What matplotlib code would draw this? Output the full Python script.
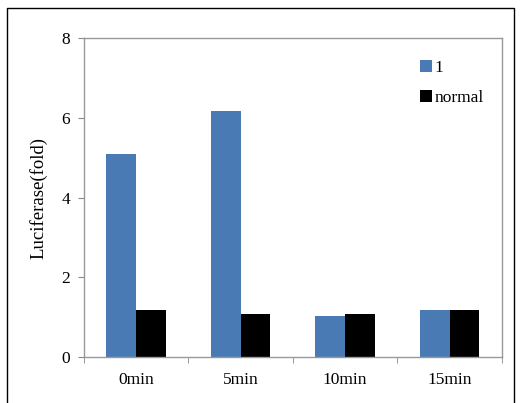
import matplotlib
matplotlib.use('Agg')
import matplotlib.pyplot as plt
from matplotlib.lines import Line2D
import numpy as np

categories = ['0min', '5min', '10min', '15min']
series_1 = [5.09, 6.17, 1.03, 1.18]
series_normal = [1.18, 1.08, 1.07, 1.17]
labels = ['1', 'normal']

plt.rcParams['font.family'] = 'Liberation Serif'

fig = plt.figure(figsize=(5.30, 4.03), dpi=100)
ax = fig.add_axes([0.1585, 0.1141, 0.7885, 0.7916])

x = np.arange(len(categories)) + 0.5
w = 0.285
ax.bar(x - w / 2, series_1, w, color='#4a7ab4', label=labels[0])
ax.bar(x + w / 2, series_normal, w, color='black', label=labels[1])

ax.set_xlim(0, len(categories))
ax.set_ylim(0, 8)
ax.set_yticks([0, 2, 4, 6, 8])
ax.set_xticks(x)
ax.set_xticklabels(categories)
ax.set_xticks(np.arange(len(categories) + 1), minor=True)
ax.tick_params(axis='x', which='major', length=0, pad=11, labelsize=12.5)
ax.tick_params(axis='x', which='minor', length=4, direction='out', color='#888888')
ax.tick_params(axis='y', length=4, direction='out', color='#888888', labelsize=12.5, pad=6)
for s in ax.spines.values():
    s.set_color('#999999')
    s.set_linewidth(1.0)

ax.set_ylabel('Luciferase(fold)', fontsize=13.5, labelpad=10)

ax.legend(loc='upper right', bbox_to_anchor=(0.995, 0.98), frameon=False, fontsize=12.5,
          handlelength=0.7, handleheight=0.7, handletextpad=0.15, labelspacing=0.8)

# outer frame
fx = [7 / 530, 7 / 530, 514 / 530, 514 / 530]
fy = [0, 1 - 8 / 403, 1 - 8 / 403, 0]
fig.add_artist(Line2D(fx, fy, color='black', linewidth=1.0, transform=fig.transFigure))

fig.savefig('out.png', dpi=100)
